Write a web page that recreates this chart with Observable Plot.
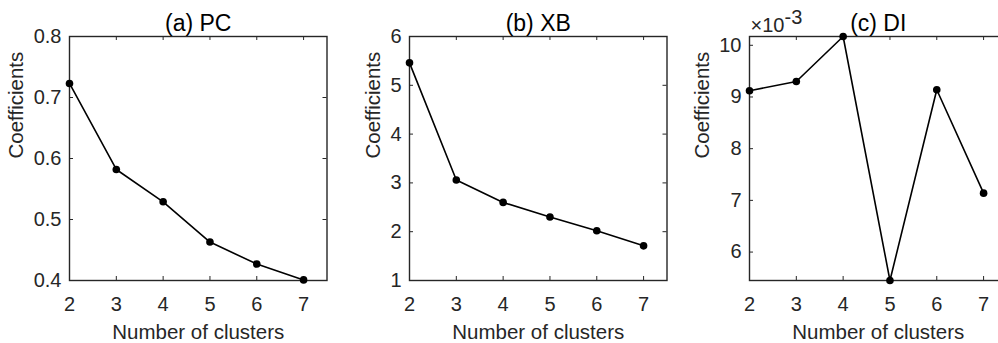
<!DOCTYPE html>
<html><head><meta charset="utf-8">
<script src="https://cdn.jsdelivr.net/npm/d3@7"></script>
<script src="https://cdn.jsdelivr.net/npm/@observablehq/plot@0.6"></script>
<style>
body{margin:0;background:#fff}
#fig{position:relative;width:998px;height:343px;overflow:hidden;background:#fff}
#fig svg{position:absolute;top:0;overflow:visible}
</style></head><body><div id="fig"></div>
<script>
const clusters = [2, 3, 4, 5, 6, 7];
const pcValues = [0.723, 0.582, 0.529, 0.463, 0.427, 0.401];
const xbValues = [5.46, 3.06, 2.60, 2.30, 2.02, 1.71];
const diValues = [0.00912, 0.00930, 0.01017, 0.00545, 0.00914, 0.00714];
const titles = ["(a) PC", "(b) XB", "(c) DI"];
const xLabel = "Number of clusters";
const yLabel = "Coefficients";
const pcTicks = [0.4, 0.5, 0.6, 0.7, 0.8];
const xbTicks = [1, 2, 3, 4, 5, 6];
const diTicks = [0.006, 0.007, 0.008, 0.009, 0.010];
const diExponentBase = "×10";
const diExponent = "-3";

const ink = "#262626";
const font = "'Liberation Sans', Arial, Helvetica, sans-serif";
const fig = document.getElementById("fig");

function panel({values, yDomain, yTicks, yFormat, title, left, yLabelDx, exponent}) {
  const mL = 75, mR = 10, mT = 36, mB = 63;
  const pw = 257.5, ph = 244;
  const data = clusters.map((c, i) => ({c, v: values[i]}));
  const marks = [
    Plot.frame({stroke: ink, strokeWidth: 1.4}),
    Plot.ruleX(clusters, {stroke: ink, strokeWidth: 1, insetTop: ph - 4}),
    Plot.ruleX(clusters, {stroke: ink, strokeWidth: 1, insetBottom: ph - 4}),
    Plot.ruleY(yTicks, {stroke: ink, strokeWidth: 1, insetRight: pw - 4}),
    Plot.ruleY(yTicks, {stroke: ink, strokeWidth: 1, insetLeft: pw - 4}),
    Plot.axisX(clusters, {tickSize: 0, tickPadding: 16, fill: ink, fontSize: 20, label: null}),
    Plot.axisY(yTicks, {tickSize: 0, tickPadding: 8, fill: ink, fontSize: 20, label: null, tickFormat: yFormat}),
    Plot.line(data, {x: "c", y: "v", stroke: "#000", strokeWidth: 1.6}),
    Plot.dot(data, {x: "c", y: "v", r: 3.8, fill: "#000", stroke: "none"}),
    Plot.text([title], {frameAnchor: "top", dy: -12.5, lineAnchor: "middle", fontSize: 23, fill: "#000"}),
    Plot.text([xLabel], {frameAnchor: "bottom", dy: 52, lineAnchor: "middle", fontSize: 20.5, fill: ink}),
    Plot.text([yLabel], {frameAnchor: "left", dx: yLabelDx, rotate: -90, lineAnchor: "middle", fontSize: 20.5, fill: ink})
  ];
  if (exponent) {
    marks.push(Plot.text([diExponentBase], {frameAnchor: "top-left", textAnchor: "start", lineAnchor: "middle", dy: -11, dx: 1, fontSize: 20, fill: ink}));
    marks.push(Plot.text([exponent], {frameAnchor: "top-left", textAnchor: "start", lineAnchor: "middle", dy: -19, dx: 35, fontSize: 20, fill: ink}));
  }
  const svg = Plot.plot({
    width: mL + pw + mR, height: mT + ph + mB,
    marginLeft: mL, marginRight: mR, marginTop: mT, marginBottom: mB,
    x: {domain: [2, 7.5], axis: null},
    y: {domain: yDomain, axis: null},
    style: {fontFamily: font, color: ink, background: "transparent", overflow: "visible"},
    marks
  });
  svg.style.left = (left - mL) + "px";
  fig.appendChild(svg);
}

panel({values: pcValues, yDomain: [0.4, 0.8], yTicks: pcTicks, yFormat: d3.format(".1f"), title: titles[0], left: 69, yLabelDx: -53});
panel({values: xbValues, yDomain: [1, 6], yTicks: xbTicks, yFormat: d3.format("d"), title: titles[1], left: 409.3, yLabelDx: -36});
panel({values: diValues, yDomain: d3.extent(diValues), yTicks: diTicks, yFormat: d => String(Math.round(d * 1000)), title: titles[2], left: 749.3, yLabelDx: -47, exponent: diExponent});
</script></body></html>
